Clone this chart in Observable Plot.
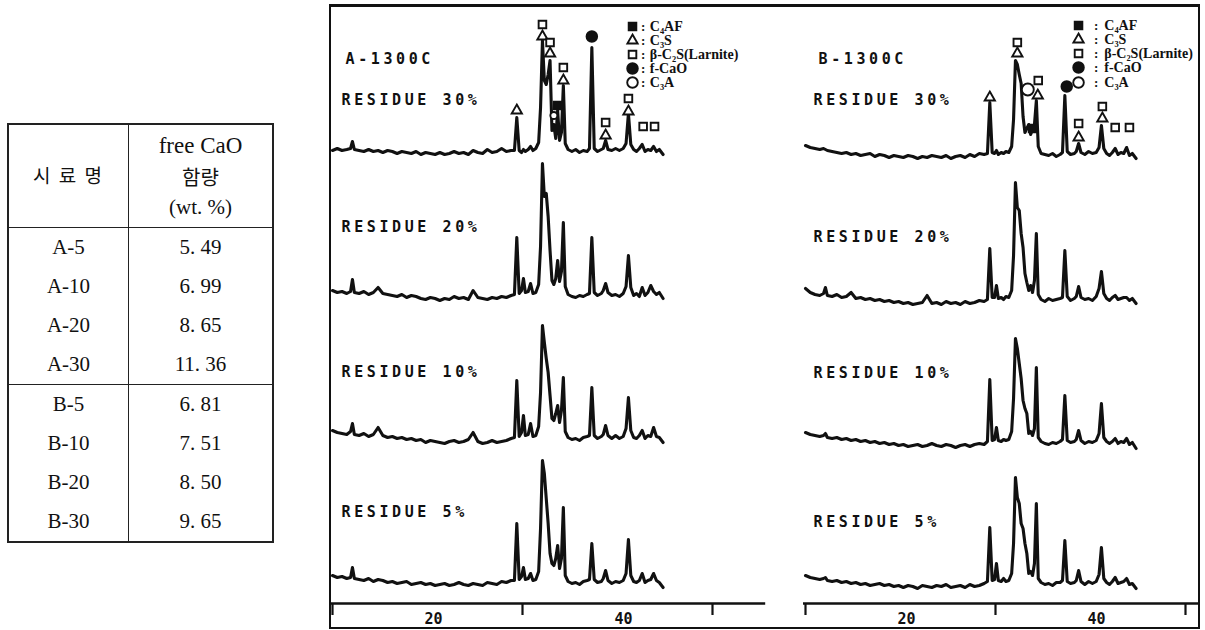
<!DOCTYPE html>
<html><head><meta charset="utf-8">
<script src="https://cdn.jsdelivr.net/npm/d3@7"></script>
<script src="https://cdn.jsdelivr.net/npm/@observablehq/plot@0.6"></script>
<style>
html,body{margin:0;padding:0;background:#fff;}
body{width:1205px;height:630px;position:relative;overflow:hidden;}
.panel{position:absolute;top:5px;}
#frame{position:absolute;left:329px;top:4px;width:871px;height:625px;box-sizing:border-box;border:2px solid #111;border-top-width:3px;pointer-events:none;z-index:5;}
#tbl{position:absolute;left:7px;top:123px;width:267px;height:420px;border-collapse:collapse;border:2px solid #222;font-family:"Liberation Serif",serif;font-size:21px;color:#111;}
#tbl td{padding:0;text-align:center;vertical-align:middle;border-left:1.5px solid #222;line-height:1;}
#tbl td.c1{width:119px;}
#tbl tr.hd td{height:102px;border-bottom:1.5px solid #222;}
#tbl tr.sep td{border-bottom:1.5px solid #222;}
#tbl .kr{font-family:"Noto Sans CJK KR",sans-serif;font-size:19px;letter-spacing:2px;}
#tbl .hl{line-height:31px;}
</style></head><body>
<div id="tblwrap"></div>
<div id="left" class="panel" style="left:330px"></div>
<div id="right" class="panel" style="left:790px"></div>
<div id="frame"></div>
<script>
// ---------- table data ----------
const samples = ["A-5","A-10","A-20","A-30","B-5","B-10","B-20","B-30"];
const freeCaO = [5.49,6.99,8.65,11.36,6.81,7.51,8.50,9.65];

// ---------- XRD data (2-theta grid shared by all traces) ----------
const twoTheta = [10.0,10.5,11.0,11.5,11.9,12.1,12.3,12.8,13.3,13.8,14.3,14.8,15.3,15.8,16.3,16.8,17.3,17.8,18.3,18.8,19.3,19.8,20.3,20.8,21.3,21.8,22.3,22.8,23.3,23.8,24.3,24.8,25.3,25.8,26.3,26.8,27.3,27.8,28.3,28.8,
29.15,29.4,29.65,29.9,30.1,30.3,30.6,30.85,31.1,31.4,31.7,31.9,32.1,32.3,32.5,32.7,32.9,33.1,33.3,33.5,33.7,33.9,34.1,34.3,34.5,34.8,35.2,35.6,36.0,36.4,36.8,37.05,37.3,37.55,37.9,38.3,38.5,38.75,39.0,39.4,39.8,40.2,40.6,40.9,41.15,41.4,41.7,42.0,42.3,42.6,42.9,43.2,43.5,43.8,44.1,44.4,44.8];

// intensities (relative to each trace's own baseline)
const A30 = [2,4,2,3,4,11,3,2,1,3, 1,2,0,2,1,-1,1,0,-1,1, -2,0,-1,-2,0,-2,-1,1,-1,0, -2,2,0,-1,3,0,1,4,1,2,
2,35,2,0,3, 1,3,6,2,4, 10,45,112,72,68, 78,92,22,28,14, 42,12,20,67,9, 3,1,3,0,2, 1,4,105,4,1, 3,4,12,3,2, 4,2,4,9,39, 8,3,1,4,8, 1,3,2,6,1, 3,-2];
const A20 = [6,4,5,3,5,17,4,3,5,2, 4,9,3,2,1,0,2,-1,1,0, -2,-3,-1,-2,-4,-2,-3,0,-2,-1, -3,6,-1,-2,-3,-1,-2,0,-1,1,
2,59,3,6,18, 4,5,13,3,4, 12,50,133,100,103, 80,46,16,12,18, 36,15,25,74,10, 2,0,-1,1,0, 2,3,59,4,1, 3,6,13,4,1, 2,0,3,10,41, 9,1,3,0,9, 1,4,11,5,2, 4,-2];
const A10 = [10,8,7,6,9,17,6,5,7,4, 6,13,5,3,4,2,3,1,2,0, 1,-2,0,-1,-2,-3,-1,0,-2,-1, 1,8,-1,-3,-2,0,-2,-1,0,2,
3,60,4,8,25, 5,6,17,4,5, 14,48,115,98,82, 68,45,22,20,27, 35,18,30,63,9, 3,1,2,0,3, 4,5,53,5,2, 4,6,15,5,2, 5,2,4,12,43, 10,3,2,5,10, 2,5,4,13,4, 3,-2];
const A5 = [8,6,7,5,6,16,5,4,3,5, 2,4,3,1,2,0,1,2,-1,0, 1,-1,0,-2,-1,0,-2,-1,1,-1, -2,0,-1,-2,1,0,-1,2,1,3,
3,60,4,7,16, 4,5,10,3,4, 12,55,123,110,85, 60,30,20,18,25, 38,15,25,76,8, 2,0,1,-1,2, 3,4,40,4,1, 2,5,13,3,0, 2,1,3,10,44, 8,2,1,3,10, 1,3,4,10,3, 1,-4];
const B30 = [9,7,6,5,6,5,4,3,2,1, 2,0,1,-1,0,1,-2,0,-1,-3, -1,-2,-3,-1,-2,-4,-2,-3,-1,-2, -3,-1,-4,-2,-1,-3,0,-2,1,0,
1,52,2,1,4, 0,2,1,3,2, 8,35,94,90,80, 71,38,22,26,30, 20,25,30,54,8, 1,0,-1,1,-2, 0,2,59,3,0, 1,3,11,2,0, 3,1,2,7,29, 6,1,-1,2,6, 0,2,1,7,-1, 1,-4];
const B20 = [12,8,6,5,7,13,5,4,6,3, 4,8,2,3,1,2,0,1,-1,0, -2,-1,-3,-2,-4,-3,-2,5,-3,-2, -4,-1,-3,-2,-4,-1,-3,-2,0,-1,
1,52,3,3,15, 2,3,1,4,3, 10,45,118,93,90, 67,53,27,18,10, 15,8,20,67,6, 1,-1,2,0,1, 2,3,50,4,0, 2,4,14,3,1, 2,0,4,12,29, 7,2,0,3,5, 1,2,3,3,0, 2,-3];
const B10 = [11,9,8,7,8,10,6,5,6,4, 5,3,4,2,3,1,2,0,1,-1, 0,-2,-1,-3,-2,-1,-3,-2,0,-2, -3,-1,-2,-4,-2,-1,-3,-1,0,-1,
2,64,3,4,16, 3,2,4,3,4, 12,45,105,95,80, 65,43,35,30,10, 12,8,15,76,6, 2,0,-1,1,0, 2,4,48,3,1, 2,4,13,3,0, 2,1,3,10,40, 6,2,0,2,5, 0,2,1,5,-1, 1,-5];
const B5 = [8,6,5,4,5,6,3,2,3,1, 2,0,1,-1,0,-2,-1,0,-2,-1, -3,-2,-4,-2,-3,-5,-2,-3,-4,-2, -3,-1,-4,-3,-2,-4,-1,-3,-2,0,
2,56,3,4,20, 3,2,5,2,3, 10,40,106,86,80, 60,55,40,30,10, 12,8,20,80,5, 1,-1,0,-2,1, 1,3,43,2,0, 1,3,13,2,-1, 2,0,2,9,36, 5,1,-1,2,6, 0,1,2,5,-1, 0,-5];

const residues = ["RESIDUE 30%","RESIDUE 20%","RESIDUE 10%","RESIDUE 5%"];
const panelTitles = ["A-1300C","B-1300C"];

// phases / legend
const phases = ["C4AF","C3S","C2S","CaO","C3A"];
const phaseLabels = ["C\u2084AF","C\u2083S","\u03B2-C\u2082S(Larnite)","f-CaO","C\u2083A"];

// peak identification markers
const markA_phase = ["C3S","C2S","C3S","C2S","C3S","C2S","C3S","C4AF","C3A","CaO","C2S","C3S","C2S","C3S","C2S","C2S"];
const markA_theta = [29.4,32.1,32.1,32.9,32.9,34.3,34.3,33.7,33.3,37.3,38.75,38.75,41.15,41.15,42.7,43.9];
const markA_height = [493,579,567,561,550,536,523,498,488,567,481,468,505,492,477,477];
const markB_phase = ["C3S","C2S","C3S","C3A","C2S","C3S","C4AF","CaO","C2S","C3S","C2S","C3S","C2S","C2S"];
const markB_theta = [29.4,32.3,32.3,33.4,34.5,34.45,33.9,37.5,38.75,38.75,41.25,41.25,42.6,44.1];
const markB_height = [506,561,550,514,523,508,475,517,480,466,497,485,476,476];

// axis
const tickValues = [10,30,50];
const tickLabels = [20,40];

// ---------- layout (positions/styles) ----------
const layoutA = {el:"left", width:460, xDomain:[9.789,58.211], offsets:[451,307,163,20], lift:[52,69,68,71],
  labelDx:11, titleDx:15, axis:[9.79,55.6], c3aR:3.5,
  legend:{sym:41.58, colon:42.7, text:43.4, rows:[577,563,549,535,521]}};
const layoutB = {el:"right", width:410, xDomain:[8.421,51.579], offsets:[449,303,160,20], lift:[54,63,70,61],
  labelDx:23, titleDx:28, axis:[9.79,51.6], c3aR:6,
  legend:{sym:38.74, colon:40.6, text:41.45, rows:[578,564,550,536,521]}};

const phaseStyle = {
  C4AF:{symbol:"square", fill:"#111", r:4.3},
  C3S:{symbol:"triangle", fill:"white", r:3.8},
  C2S:{symbol:"square", fill:"white", r:4.3},
  CaO:{symbol:"circle", fill:"#111", r:5.3},
  C3A:{symbol:"circle", fill:"white", r:5.3}
};
const ink = "#111";
const monoFont = "DejaVu Sans Mono";

function drawPanel(L, traces, title, mPhase, mTheta, mHeight) {
  const rows = [];
  traces.forEach((arr, k) => {
    const n = Math.min(arr.length, twoTheta.length);
    for (let i = 0; i < n; i++) rows.push({k, x: twoTheta[i], y: arr[i] + L.offsets[k]});
  });
  const markRows = mPhase.map((p, i) => ({phase: p, x: mTheta[i], y: mHeight[i]}));
  const legendRows = phases.map((p, i) => ({phase: p, label: phaseLabels[i], y: L.legend.rows[i]}));
  const labelRows = residues.map((t, i) => ({t, y: L.offsets[i] + L.lift[i]}));

  const dotMarks = [];
  for (const p of phases) {
    const s = phaseStyle[p];
    const r = p === "C3A" ? L.c3aR : s.r;
    dotMarks.push(Plot.dot(markRows.filter(d => d.phase === p), {
      x: "x", y: "y", symbol: () => s.symbol, r, fill: s.fill, stroke: ink, strokeWidth: 1.9
    }));
    dotMarks.push(Plot.dot(legendRows.filter(d => d.phase === p), {
      x: () => L.legend.sym, y: "y", symbol: () => s.symbol, r: s.r, fill: s.fill, stroke: ink, strokeWidth: 1.9
    }));
  }

  const svg = Plot.plot({
    width: L.width, height: 623,
    marginTop: 0, marginBottom: 0, marginLeft: 0, marginRight: 0,
    x: {domain: L.xDomain, axis: null},
    y: {domain: [-25, 598], axis: null},
    symbol: {type: "identity"},
    style: {background: "white", color: ink},
    marks: [
      Plot.line(rows, {x: "x", y: "y", z: "k", stroke: ink, strokeWidth: 3.1, strokeLinejoin: "round", curve: "linear"}),
      Plot.ruleY([{y: 0, x1: L.axis[0], x2: L.axis[1]}], {y: "y", x1: "x1", x2: "x2", stroke: ink, strokeWidth: 2.5}),
      Plot.ruleX(tickValues.map(v => ({x: v, y1: 0, y2: -12})), {x: "x", y1: "y1", y2: "y2", stroke: ink, strokeWidth: 2.2}),
      Plot.text(tickLabels.map(v => ({x: v, y: -16})), {x: "x", y: "y", text: d => String(d.x), dx: 6,
        fontFamily: monoFont, fontWeight: "bold", fontSize: 15, fill: ink}),
      ...dotMarks,
      Plot.text(legendRows, {x: () => L.legend.colon, y: "y", text: () => ":", textAnchor: "middle",
        fontFamily: "Liberation Serif", fontWeight: "bold", fontSize: 13, fill: ink}),
      Plot.text(legendRows, {x: () => L.legend.text, y: "y", text: "label", textAnchor: "start",
        fontFamily: "Liberation Serif", fontWeight: "bold", fontSize: 14, fill: ink}),
      Plot.text(labelRows, {frameAnchor: "left", y: "y", text: "t", dx: L.labelDx, textAnchor: "start",
        fontFamily: monoFont, fontWeight: "bold", fontSize: 15, fill: ink}),
      Plot.text([title], {frameAnchor: "top-left", dx: L.titleDx, dy: 48, text: d => d, textAnchor: "start",
        fontFamily: monoFont, fontWeight: "bold", fontSize: 15, fill: ink})
    ]
  });
  svg.querySelectorAll("text").forEach(t => {
    if (/RESIDUE|1300C/.test(t.textContent)) t.setAttribute("letter-spacing", "3.6");
  });
  document.getElementById(L.el).appendChild(svg);
}

drawPanel(layoutA, [A30, A20, A10, A5], panelTitles[0], markA_phase, markA_theta, markA_height);
drawPanel(layoutB, [B30, B20, B10, B5], panelTitles[1], markB_phase, markB_theta, markB_height);

// ---------- table ----------
(function () {
  const fmt = v => v.toFixed(2).replace(".", ". ");
  let html = '<table id="tbl"><tr class="hd"><td class="c1"><span class="kr">시 료 명</span></td>' +
    '<td><div class="hl" style="font-size:23px">free CaO</div><div class="hl kr" style="font-size:20px;letter-spacing:0">함량</div><div class="hl">(wt. %)</div></td></tr>';
  samples.forEach((s, i) => {
    html += '<tr class="' + (i === 3 ? "sep" : "r") + '"><td class="c1">' + s + '</td><td>' + fmt(freeCaO[i]) + '</td></tr>';
  });
  html += '</table>';
  document.getElementById("tblwrap").innerHTML = html;
})();
</script>
</body></html>
